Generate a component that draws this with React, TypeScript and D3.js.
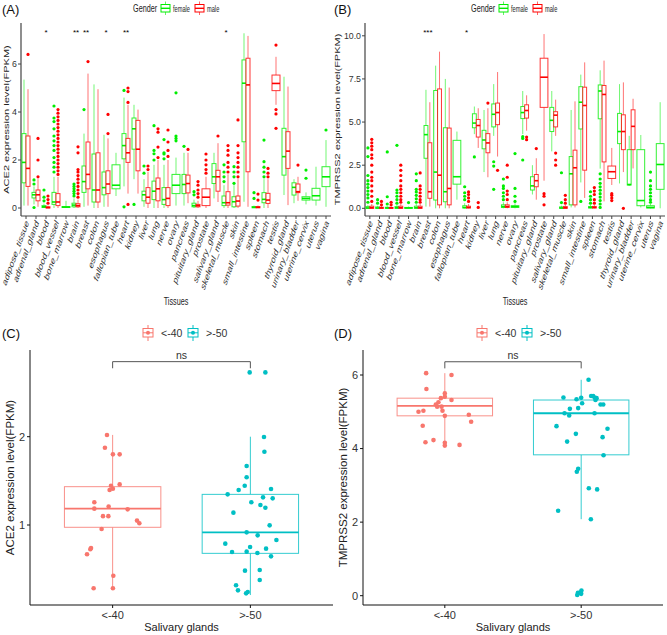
import React from 'react';
import * as d3 from 'd3';

type Box = [number, number, number, number, number, number[]] | null;

const tissues = ['adipose_tissue','adrenal_gland','blood','blood_vessel','bone_marrow','brain','breast','colon','esophagus','fallopian_tube','heart','kidney','liver','lung','nerve','ovary','pancreas','pituitary_gland','prostate','salivary_gland','skeletal_muscle','skin','small_intestine','spleen','stomach','testis','thyroid_gland','urinary_bladder','uterine_cervix','uterus','vagina'];

// [lower whisker, q1, median, q3, upper whisker, outliers]
const aceFemale: Box[] = [
  [0.1,1.05,1.9,3.1,5.35,[]],
  [0.15,0.42,0.55,0.65,0.9,[1.0,1.17,0.02]],
  [0,0.02,0.05,0.1,0.18,[0.3,0.45,0.75]],
  [0,0.15,0.25,0.65,1.3,[1.5,1.7,1.9,2.1,2.4,2.6,2.8,3.0,3.3,3.6,3.75,4.25]],
  [0,0.02,0.04,0.06,0.3,[]],
  [0,0.05,0.12,0.2,0.4,[0.5,0.6,0.7,0.8,0.9,1.0]],
  [0.05,0.65,1.1,1.75,3.1,[4.1]],
  [0,0.25,0.75,2.25,5.15,[]],
  [0.05,0.55,0.85,1.5,3.05,[]],
  [0.5,0.8,0.95,1.8,2.3,[]],
  [0.9,2.05,2.6,3.1,4.6,[4.9,0.05]],
  [1.2,2.45,3.3,3.75,4.3,[0.15]],
  [0.05,0.3,0.55,0.7,1.2,[1.45,1.75]],
  [0,0.35,0.7,1.12,1.8,[2.0,2.26,2.4,3.43]],
  [0,0.15,0.35,0.85,1.8,[2.05,2.25,2.3,2.85]],
  [0.1,0.6,0.95,1.4,2.1,[2.8,2.9,3.0,4.8]],
  [0.1,0.6,0.98,1.4,2.3,[2.57]],
  [0,0.05,0.1,0.2,0.35,[0.55,0.68]],
  null,
  [0.4,1.02,1.3,1.85,2.3,[]],
  [0,0.1,0.22,0.5,0.95,[1.1,1.3,1.5,1.8]],
  [0,0.05,0.26,0.47,0.95,[1.03,1.3,1.5,1.72]],
  [0.26,2.76,5.2,6.17,7.28,[]],
  [0,0.01,0.03,0.06,0.1,[0.4,0.64]],
  [0,0.22,0.36,0.64,1.2,[1.3,1.5,1.7,1.93,2.83]],
  null,
  [0.54,1.37,2.14,3.32,5.47,[]],
  [0.2,0.54,0.86,1.05,1.2,[]],
  [0.15,0.33,0.4,0.47,0.65,[1.24,1.58]],
  [0.1,0.33,0.51,0.82,1.72,[]],
  [0.05,0.89,1.3,1.72,2.83,[3.25]],
];

const aceMale: Box[] = [
  [0.1,0.9,1.65,3.0,4.95,[6.4]],
  [0.05,0.3,0.55,0.75,1.2,[1.3,2.0,2.9]],
  [0,0,0.02,0.05,0.1,[0.2,0.35,0.5]],
  [0,0.1,0.25,0.6,1.3,[1.4,1.55,1.7,1.85,2.0,2.15,2.3,2.45,2.6,2.75,2.9,3.05,3.2,3.35,3.5,3.65,3.8,3.95,4.1]],
  null,
  [0,0.05,0.1,0.18,0.35,[0.45,0.6,0.75,0.9,1.05,1.2,1.35,1.5,1.6,2.3,2.55]],
  [0.1,0.8,1.4,2.75,5.6,[6.1]],
  [0,0.25,0.75,2.3,4.95,[]],
  [0.05,0.6,1.0,1.55,2.9,[3.1,3.9]],
  null,
  [0.6,1.9,2.3,2.9,4.3,[4.4,4.85,5.0,0.15]],
  [0.6,1.55,2.45,3.65,4.1,[]],
  [0,0.2,0.45,0.85,1.5,[1.6,1.75]],
  [0,0.3,0.8,1.25,2.0,[2.1,2.54,3.16,3.3]],
  [0,0.1,0.4,0.85,2.0,[2.15,2.4,2.75,3.25]],
  null,
  [0.2,0.63,1.02,1.37,2.3,[2.44]],
  [0,0.05,0.1,0.15,0.3,[0.45,0.6,0.75,0.95,1.1]],
  [0,0.1,0.45,0.8,1.3,[1.45,1.6,1.8,2.0,2.25]],
  [0.25,0.7,1.3,1.57,2.7,[3.0]],
  [0,0.12,0.22,0.68,1.4,[1.5,1.7,1.9,2.2,2.4,2.6]],
  [0,0.08,0.29,0.5,1.2,[1.3,1.5,1.7,1.9,2.1,2.3,2.6,3.67]],
  [0.05,1.51,5.13,6.24,7.17,[]],
  [0,0.01,0.03,0.06,0.1,[0.33,0.58]],
  [0,0.19,0.33,0.61,1.2,[1.3,1.45,1.65]],
  [4.3,4.89,5.19,5.54,6.3,[6.79,4.1,3.92,3.32]],
  [0.12,1.65,2.37,3.18,5.06,[]],
  [0.3,0.64,0.68,1.0,1.3,[1.79]],
  null, null, null,
];

const tmpFemale: Box[] = [
  [0,0,0.02,0.1,0.2,[0.35,0.6,0.8,1.0,1.2,1.4,1.6,1.9,3.0,3.5]],
  [0,0,0.02,0.08,0.15,[0.3,0.5]],
  [0,0,0.02,0.06,0.12,[0.25,0.67,3.27]],
  [0,0,0.03,0.1,0.2,[0.3,0.5,0.7,0.9,1.06,3.65]],
  [0,0,0.02,0.05,0.1,[0.33]],
  [0,0,0.03,0.12,0.25,[0.35,0.55,0.75,0.95,1.1,1.6,2.0]],
  [0.1,2.9,4.27,4.8,6.87,[]],
  [0,0.48,2.1,6.83,8.27,[]],
  [0,0.38,0.96,4.67,7.5,[]],
  [0.5,1.4,1.83,3.94,4.45,[]],
  [0,0.02,0.05,0.15,0.3,[0.5,0.7,0.9,1.25]],
  [4.3,4.67,4.94,5.48,5.9,[2.98]],
  [2.1,3.45,3.96,4.52,5.7,[]],
  [4.2,4.72,5.45,6.05,7.2,[1.1,2.45,2.7]],
  [0,0.05,0.1,0.2,0.35,[0.5,0.7,0.9,1.15,1.3,1.7]],
  [0,0.05,0.1,0.15,0.3,[0.4,0.7,1.15,3.17]],
  [4.3,5.2,5.55,5.9,6.8,[2.8,4.05,4.15]],
  [0.8,1.06,1.3,1.83,2.5,[]],
  null,
  [3.3,4.45,5.1,5.85,6.8,[]],
  [0,0,0.02,0.08,0.15,[0.33,2.06]],
  [0.05,0.2,2.0,3.0,5.7,[]],
  [1.5,4.6,6.15,7.05,7.75,[0.4]],
  [0,0.02,0.05,0.1,0.2,[0.3,0.5,0.7,0.96]],
  [2.3,5.19,6.8,7.15,8.0,[0.05,0.25,0.45,0.65,0.85,1.05,1.25,1.45,1.7,2.0]],
  null,
  [1.44,3.75,4.45,5.5,7.2,[]],
  [1.3,1.35,1.38,3.4,4.2,[]],
  [0.05,0.15,0.45,3.4,4.25,[]],
  [0,0.02,0.05,0.15,0.25,[0.35,0.5,0.7,0.9,1.1,1.3,1.6,2.1]],
  [0,1.1,2.54,3.75,6.15,[]],
];

const tmpMale: Box[] = [
  [0,0,0.03,0.12,0.25,[0.4,0.7,1.0,1.3,1.6,1.8,2.1,2.5,2.9,3.1,3.4,3.6,3.8,4.0]],
  [0,0,0.02,0.06,0.12,[0.2,0.4]],
  [0,0,0.02,0.05,0.1,[0.2,0.35]],
  [0,0,0.03,0.12,0.25,[0.35,0.5,0.7,0.9,1.1,1.3,1.6,1.9,2.2,2.5]],
  null,
  [0,0,0.03,0.12,0.25,[0.35,0.5,0.7,0.9,1.1,1.3,2.05]],
  [0.1,0.58,0.96,3.8,6.15,[]],
  [0,0.2,1.92,6.92,9.08,[]],
  [0,0.2,1.15,4.65,7.0,[]],
  null,
  [0,0.02,0.05,0.12,0.25,[0.4,0.6,0.8,0.95]],
  [3.5,4.13,4.8,5.15,5.8,[0.05,0.33]],
  [1.8,3.22,3.79,4.33,5.8,[6.1]],
  [3.0,4.85,5.55,6.1,7.9,[2.2]],
  [0,0.05,0.1,0.2,0.35,[0.5,0.8,1.0,1.8,2.5]],
  null,
  [4.5,5.23,5.67,6.0,6.55,[3.98,4.13]],
  [0.5,1.25,1.6,1.96,2.9,[3.46]],
  [1.6,5.85,7.6,8.7,10.1,[0.2,0.7,0.85]],
  [4.2,4.72,5.4,5.6,6.3,[2.5,2.8,3.2]],
  [0,0,0.03,0.1,0.2,[0.3,0.5,0.75]],
  [0.05,0.2,2.35,3.37,6.2,[]],
  [0.6,2.21,5.96,7.02,8.46,[]],
  [0,0.02,0.05,0.1,0.2,[0.3,0.5,0.8,1.0,1.2]],
  [0.4,2.69,6.6,7.12,8.56,[]],
  [1.35,1.73,2.12,2.45,3.5,[0.45,0.6,0.75,0.85]],
  [2.1,3.4,4.45,5.42,7.3,[0.0]],
  [2.31,3.4,4.75,5.71,6.35,[]],
  null, null, null,
];

const aceStars: [string, string][] = [['blood','*'],['brain','**'],['breast','**'],['esophagus','*'],['heart','**'],['skeletal_muscle','*']];
const tmpStars: [string, string][] = [['breast','***'],['heart','*']];
const aceTicks = [0, 2, 4, 6];
const tmpTicks = [0, 2.5, 5, 7.5, 10];
const genders = ['female', 'male'];

// Salivary glands by age
const ageGroups = ['<-40', '>-50'];
const aceYoung = [2.02,1.875,1.8,1.8,1.46,1.445,1.396,1.41,1.257,1.185,1.21,1.177,1.1,1.1,1.05,1.02,0.955,0.74,0.725,0.668,0.426,0.283,0.283];
const aceYoungJit = [-0.041,-0.056,0.002,0.051,0.051,-0.012,-0.022,0.002,-0.133,-0.133,-0.029,0.109,-0.07,-0.031,0.177,0.194,-0.08,-0.157,-0.162,-0.186,0.005,-0.138,0.002];
const aceOld = [2.728,2.728,1.996,1.83,1.668,1.54,1.445,1.396,1.347,1.408,1.313,1.302,1.257,1.226,1.196,1.14,0.996,0.917,0.883,0.83,0.789,0.751,0.732,0.694,0.698,0.683,0.645,0.483,0.491,0.377,0.317,0.26,0.242,0.226];
const aceOldJit = [-0.005,0.109,0.099,0.102,-0.027,-0.027,-0.041,-0.085,-0.165,0.15,0.092,0.162,0.007,0.073,0.109,-0.123,0.14,-0.027,0.053,0.189,-0.182,-0.002,0.114,-0.133,-0.027,0.051,0.15,-0.039,0.068,0.068,-0.104,-0.09,-0.019,-0.031];
const aceAgeBoxes: [number, number, number, number, number][] = [[0.264,0.974,1.185,1.434,2.02],[0.207,0.679,0.917,1.347,2.0]];
const aceAgeTicks = [1, 2];

const tmpYoung = [6.05,6.0,5.62,5.5,5.41,5.37,5.32,5.26,5.2,5.14,5.14,5.03,5.0,5.03,4.89,4.92,4.73,4.62,4.23,4.17,4.16,4.08,4.1];
const tmpYoungJit = [-0.137,0.049,-0.135,0,0,-0.029,0.049,-0.047,-0.066,-0.056,-0.024,-0.157,-0.193,-0.017,0,0.176,0.193,-0.162,-0.083,-0.142,0,0,0.108];
const tmpOld = [5.87,5.39,5.34,5.38,5.43,5.43,5.39,5.32,5.37,5.23,5.2,5.2,5.08,5.1,4.96,4.96,4.9,4.61,4.54,4.4,4.31,4.19,3.82,3.45,3.37,2.92,2.89,2.31,2.08,0.08,0.08,0.05,0.02,0.14];
const tmpOldJit = [0.054,-0.13,-0.034,0,0.073,0.088,0.098,0.105,0.113,0.007,0.142,0.162,-0.083,-0.022,-0.122,0.098,-0.088,-0.181,0.193,-0.039,0.157,-0.103,0.164,-0.022,-0.032,0.056,0.117,-0.169,0.071,-0.024,-0.01,0,-0.029,0.002];
const tmpAgeBoxes: [number, number, number, number, number][] = [[4.05,4.89,5.16,5.37,6.05],[2.08,3.83,4.96,5.32,5.87]];
const tmpAgeTicks = [0, 2, 4, 6];

const FONT = "'Liberation Sans', Arial, Helvetica, sans-serif";
const GREEN = '#00ee00';
const RED = '#ff0000';
const AGE_COLORS = ['#F8766D', '#00BFC4'];
const SX = 0.63;

function SqText({ x, y, rot = 0, size = 11, anchor = 'start', dy = '0', fill = '#222', children }: any) {
  return (
    <text transform={`translate(${x},${y}) scale(${SX},1) rotate(${rot})`} fontSize={size}
      textAnchor={anchor} dy={dy} fill={fill} fontFamily={FONT}>{children}</text>
  );
}

function GBox({ cx, w, b, y, color }: any) {
  const [lo, q1, med, q3, hi, out] = b;
  return (
    <g>
      <line x1={cx} x2={cx} y1={y(hi)} y2={y(q3)} stroke={color} strokeOpacity={0.55} strokeWidth={1} />
      <line x1={cx} x2={cx} y1={y(q1)} y2={y(lo)} stroke={color} strokeOpacity={0.55} strokeWidth={1} />
      <rect x={cx - w / 2} y={y(q3)} width={w} height={Math.max(y(q1) - y(q3), 0.8)} fill="white"
        stroke={color} strokeOpacity={0.8} strokeWidth={1} />
      <line x1={cx - w / 2} x2={cx + w / 2} y1={y(med)} y2={y(med)} stroke={color} strokeWidth={1.6} />
      {out.map((v: number, i: number) => <circle key={i} cx={cx} cy={y(v)} r={1.6} fill={color} />)}
    </g>
  );
}

function TissuePanel({ label, labelX, x0, x1, yTop, yBot, yScale, ticks, fmt, ytitle, fem, mal, stars, titleX, legendX }: any) {
  const x = d3.scaleBand().domain(tissues).range([x0, x1]);
  const step = x.step();
  const cx = (t: string) => (x(t) as number) + step / 2;
  return (
    <g>
      <text x={labelX} y={14} fontSize={13} fontFamily={FONT} fill="#111">{label}</text>
      {/* legend */}
      <SqText x={legendX} y={12} size={11.5}>Gender</SqText>
      {genders.map((g, i) => {
        const kx = legendX + 28 + i * 34;
        const col = i === 0 ? GREEN : RED;
        return (
          <g key={g}>
            <line x1={kx + 4.5} x2={kx + 4.5} y1={1.5} y2={15} stroke={col} strokeOpacity={0.6} />
            <rect x={kx} y={4.5} width={9} height={7.5} fill="white" stroke={col} />
            <line x1={kx} x2={kx + 9} y1={8.3} y2={8.3} stroke={col} strokeWidth={1.4} />
            <SqText x={kx + 12} y={11.5} size={9}>{g}</SqText>
          </g>
        );
      })}
      {/* axes */}
      <line x1={x0} x2={x0} y1={yTop} y2={yBot} stroke="#444" strokeWidth={1.2} />
      <line x1={x0} x2={x1} y1={yBot} y2={yBot} stroke="#444" strokeWidth={1.2} />
      {ticks.map((t: number) => (
        <g key={t}>
          <line x1={x0 - 3} x2={x0} y1={yScale(t)} y2={yScale(t)} stroke="#444" />
          <text x={x0 - 4} y={yScale(t)} dy="0.35em" textAnchor="end" fontSize={8.8} fill="#333" fontFamily={FONT}>{fmt(t)}</text>
        </g>
      ))}
      <SqText x={titleX} y={(yTop + yBot) / 2} rot={-90} anchor="middle" size={11}>{ytitle}</SqText>
      {tissues.map((t) => (
        <g key={t}>
          <line x1={cx(t)} x2={cx(t)} y1={yBot} y2={yBot + 3} stroke="#444" />
          <SqText x={cx(t) + 1} y={yBot + 5} rot={-60} anchor="end" size={11} dy="0.35em" fill="#333">{t}</SqText>
        </g>
      ))}
      <SqText x={(x0 + x1) / 2} y={305} anchor="middle" size={11.5}>Tissues</SqText>
      {/* boxes */}
      {tissues.map((t, i) => {
        const f = fem[i];
        const m = mal[i];
        const c = cx(t);
        const both = f && m;
        const hw = step * 0.4;
        return (
          <g key={t}>
            {f && <GBox cx={both ? c - hw / 2 : c} w={both ? hw : step * 0.8} b={f} y={yScale} color={GREEN} />}
            {m && <GBox cx={both ? c + hw / 2 : c} w={both ? hw : step * 0.8} b={m} y={yScale} color={RED} />}
          </g>
        );
      })}
      {stars.map(([t, s]: [string, string]) => (
        <text key={t} x={cx(t)} y={35} textAnchor="middle" fontSize={8} fill="#000" fontFamily={FONT}>{s}</text>
      ))}
    </g>
  );
}

function AgePanel({ label, labelX, x0, x1, yTop, yBot, yScale, ticks, ytitle, young, youngJit, old, oldJit, boxes, bracket, legendX }: any) {
  const x = d3.scalePoint().domain(ageGroups).range([x0, x1]).padding(0.6);
  const step = x.step();
  const bw = step * 0.7;
  const groups = [[young, youngJit], [old, oldJit]];
  const bx0 = x(ageGroups[0]) as number;
  const bx1 = x(ageGroups[1]) as number;
  return (
    <g fontFamily={FONT}>
      <text x={labelX} y={338} fontSize={13} fill="#111">{label}</text>
      {ageGroups.map((g, i) => {
        const kx = legendX + i * 45;
        const col = AGE_COLORS[i];
        return (
          <g key={g}>
            <line x1={kx + 5} x2={kx + 5} y1={325} y2={341} stroke={col} />
            <rect x={kx} y={328.5} width={10} height={8.5} fill="white" stroke={col} />
            <line x1={kx} x2={kx + 10} y1={332.8} y2={332.8} stroke={col} />
            <circle cx={kx + 5} cy={332.8} r={2} fill={col} />
            <text x={kx + 18} y={336.5} fontSize={10.5} fill="#333">{g}</text>
          </g>
        );
      })}
      <line x1={x0} x2={x0} y1={yTop} y2={yBot} stroke="#111" />
      <line x1={x0} x2={x1} y1={yBot} y2={yBot} stroke="#111" />
      {ticks.map((t: number) => (
        <g key={t}>
          <line x1={x0 - 3} x2={x0} y1={yScale(t)} y2={yScale(t)} stroke="#111" />
          <text x={x0 - 5} y={yScale(t)} dy="0.35em" textAnchor="end" fontSize={11} fill="#333">{t}</text>
        </g>
      ))}
      {ageGroups.map((g) => (
        <g key={g}>
          <line x1={x(g) as number} x2={x(g) as number} y1={yBot} y2={yBot + 3} stroke="#111" />
          <text x={x(g) as number} y={yBot + 14} textAnchor="middle" fontSize={11} fill="#333">{g}</text>
        </g>
      ))}
      <text x={(x0 + x1) / 2} y={631} textAnchor="middle" fontSize={11} fill="#222">Salivary glands</text>
      <text transform={`translate(${x0 - 16},${(yTop + yBot) / 2}) rotate(-90)`} textAnchor="middle" fontSize={11.5} fill="#222">{ytitle}</text>
      {boxes.map((b: number[], i: number) => {
        const c = x(ageGroups[i]) as number;
        const col = AGE_COLORS[i];
        const [lo, q1, med, q3, hi] = b;
        return (
          <g key={i}>
            <line x1={c} x2={c} y1={yScale(hi)} y2={yScale(q3)} stroke={col} strokeOpacity={0.8} />
            <line x1={c} x2={c} y1={yScale(q1)} y2={yScale(lo)} stroke={col} strokeOpacity={0.8} />
            <rect x={c - bw / 2} y={yScale(q3)} width={bw} height={yScale(q1) - yScale(q3)} fill="white" stroke={col} strokeOpacity={0.8} />
            <line x1={c - bw / 2} x2={c + bw / 2} y1={yScale(med)} y2={yScale(med)} stroke={col} strokeWidth={1.8} />
          </g>
        );
      })}
      {groups.map(([vals, jit]: any, i: number) => {
        const c = x(ageGroups[i]) as number;
        return vals.map((v: number, k: number) => (
          <circle key={`${i}-${k}`} cx={c + jit[k] * step} cy={yScale(v)} r={2.3} fill={AGE_COLORS[i]} />
        ));
      })}
      <path d={`M${bx0},${yScale(bracket[1])}V${yScale(bracket[0])}H${bx1}V${yScale(bracket[1])}`} fill="none" stroke="#555" />
      <text x={(bx0 + bx1) / 2} y={yScale(bracket[0]) - 3} textAnchor="middle" fontSize={10.5} fill="#333">ns</text>
    </g>
  );
}

export default function App() {
  const yA = d3.scaleLinear().domain([0, 6]).range([208, 64]);
  const yB = d3.scaleLinear().domain([0, 10]).range([208.3, 35.8]);
  const yC = d3.scaleLinear().domain([1, 2]).range([525, 436.7]);
  const yD = d3.scaleLinear().domain([0, 6]).range([595.7, 375]);
  return (
    <svg width={667} height={635} style={{ position: 'absolute', left: 0, top: 0, background: 'white' }}>
      <rect width={667} height={635} fill="white" />
      <TissuePanel label="(A)" labelX={2} x0={21} x1={331} yTop={23} yBot={216} yScale={yA} ticks={aceTicks}
        fmt={(t: number) => String(t)} ytitle="ACE2 expression level(FPKM)" fem={aceFemale} mal={aceMale}
        stars={aceStars} titleX={9} legendX={133} />
      <TissuePanel label="(B)" labelX={334} x0={365} x1={665} yTop={23} yBot={216} yScale={yB} ticks={tmpTicks}
        fmt={(t: number) => t.toFixed(1)} ytitle="TMPRSS2 expression level(FPKM)" fem={tmpFemale} mal={tmpMale}
        stars={tmpStars} titleX={340} legendX={471} />
      <AgePanel label="(C)" labelX={2} x0={30} x1={333} yTop={350} yBot={605} yScale={yC} ticks={aceAgeTicks}
        ytitle="ACE2 expression level(FPKM)" young={aceYoung} youngJit={aceYoungJit} old={aceOld} oldJit={aceOldJit}
        boxes={aceAgeBoxes} bracket={[2.85, 2.775]} legendX={143} />
      <AgePanel label="(D)" labelX={334} x0={363} x1={663} yTop={350} yBot={605} yScale={yD} ticks={tmpAgeTicks}
        ytitle="TMPRSS2 expression level(FPKM)" young={tmpYoung} youngJit={tmpYoungJit} old={tmpOld} oldJit={tmpOldJit}
        boxes={tmpAgeBoxes} bracket={[6.36, 6.18]} legendX={477} />
    </svg>
  );
}
